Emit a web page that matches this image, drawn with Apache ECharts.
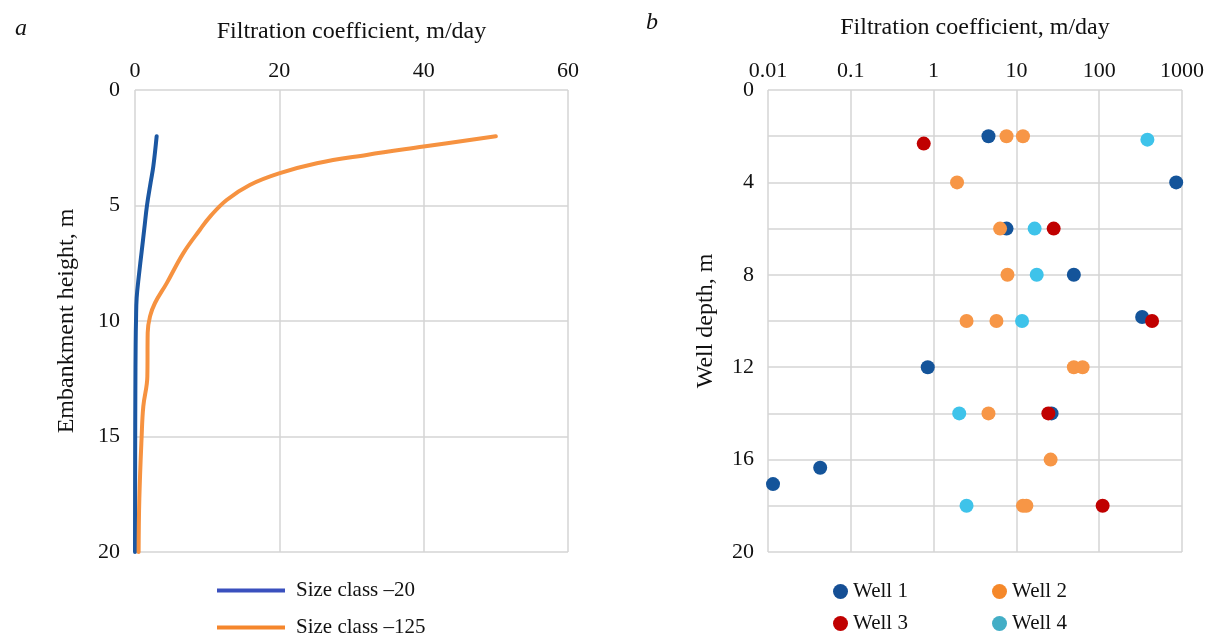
<!DOCTYPE html>
<html>
<head>
<meta charset="utf-8">
<script src="https://cdn.jsdelivr.net/npm/echarts@6/dist/echarts.min.js"></script>
<style>
html,body{margin:0;padding:0;background:#fff;}
#chart{width:1216px;height:633px;}
</style>
</head>
<body>
<div id="chart"></div>
<script>
// ---- Panel a: filtration coefficient vs embankment height ----
const class20Depth = [2, 3.3, 4, 5, 6, 7, 8, 9, 10, 11, 13, 16, 20];
const class20Value = [3.0, 2.54, 2.17, 1.66, 1.29, 0.92, 0.55, 0.23, 0.14, 0.09, 0.05, 0.02, 0];
const class125Depth = [2, 2.45, 2.81, 3.17, 3.61, 4.11, 4.76, 5.48, 6.05, 7.06, 8.36, 9.22, 9.8, 10.5, 12.4, 13.7, 15, 17.7, 20];
const class125Value = [50, 40, 32.1, 25.2, 19.96, 15.9, 12.7, 10.4, 9.0, 6.7, 4.4, 2.77, 2.08, 1.76, 1.71, 1.15, 0.92, 0.6, 0.5];

// ---- Panel b: filtration coefficient vs well depth (log scale) ----
const well1Value = [4.6, 851, 7.6, 49.4, 330, 0.85, 26.6, 0.0427, 0.0115];
const well1Depth = [2, 4, 6, 8, 9.83, 12, 14, 16.35, 17.06];
const well2Value = [7.6, 12.0, 1.92, 6.35, 7.8, 2.5, 5.74, 49.4, 63, 4.6, 25.9, 12.0, 13.2];
const well2Depth = [2, 2, 4, 6, 8, 10, 10, 12, 12, 14, 16, 18, 18];
const well3Value = [0.76, 28.2, 435, 24.3, 110];
const well3Depth = [2.32, 6, 10, 14, 18];
const well4Value = [382, 16.6, 17.6, 11.7, 2.04, 2.5];
const well4Depth = [2.15, 6, 8, 10, 14, 18];

const logTickLabels = ['0.01', '0.1', '1', '10', '100', '1000'];

const FONT = 'Liberation Serif';
const GRID_COLOR = '#D4D4D4';
const pairs = (xs, ys) => xs.map((x, i) => [x, ys[i]]);

const chart = echarts.init(document.getElementById('chart'), null, {renderer: 'canvas'});

const axisText = {fontFamily: FONT, fontSize: 22, color: '#111'};
const nameText = {fontFamily: FONT, fontSize: 24, color: '#111'};
const legendText = {fontFamily: FONT, fontSize: 21, color: '#111', lineHeight: 20};

function lineLegend(name, color, top) {
  return {
    orient: 'vertical', left: 217, top: top, padding: 0, itemWidth: 68, itemHeight: 4, icon: 'rect',
    textStyle: Object.assign({padding: [0, 0, 0, 6]}, legendText),
    data: [{name: name, itemStyle: {color: color}}]
  };
}
function dotLegend(name, color, left, top) {
  return {
    orient: 'vertical', left: left, top: top, padding: 0, itemWidth: 15, itemHeight: 15, icon: 'circle',
    textStyle: legendText,
    data: [{name: name, itemStyle: {color: color}}]
  };
}

chart.setOption({
  backgroundColor: '#fff',
  animation: false,
  title: [
    {text: 'a', left: 10, top: 12, textStyle: {fontFamily: FONT, fontStyle: 'italic', fontWeight: 'normal', fontSize: 24, color: '#111'}},
    {text: 'b', left: 641, top: 6, textStyle: {fontFamily: FONT, fontStyle: 'italic', fontWeight: 'normal', fontSize: 24, color: '#111'}}
  ],
  grid: [
    {left: 135, top: 90, width: 433, height: 462},
    {left: 768, top: 90, width: 414, height: 462}
  ],
  xAxis: [
    {
      gridIndex: 0, type: 'value', position: 'top', min: 0, max: 60, interval: 20,
      name: 'Filtration coefficient, m/day', nameLocation: 'middle', nameGap: 46, nameTextStyle: nameText,
      axisLine: {show: false}, axisTick: {show: false},
      axisLabel: Object.assign({margin: 8}, axisText),
      splitLine: {show: true, lineStyle: {color: GRID_COLOR, width: 1.5}}
    },
    {
      gridIndex: 1, type: 'log', logBase: 10, position: 'top', min: 0.01, max: 1000,
      name: 'Filtration coefficient, m/day', nameLocation: 'middle', nameGap: 50, nameTextStyle: nameText,
      axisLine: {show: false}, axisTick: {show: false},
      axisLabel: Object.assign({margin: 8, formatter: function (v) {
        const idx = Math.round(Math.log10(v)) + 2;
        return logTickLabels[idx] !== undefined ? logTickLabels[idx] : '';
      }}, axisText),
      splitLine: {show: true, lineStyle: {color: GRID_COLOR, width: 1.5}},
      minorSplitLine: {show: false}
    }
  ],
  yAxis: [
    {
      gridIndex: 0, type: 'value', inverse: true, min: 0, max: 20, interval: 5,
      name: 'Embankment height, m', nameLocation: 'middle', nameGap: 56, nameTextStyle: nameText,
      axisLine: {show: false}, axisTick: {show: false},
      axisLabel: Object.assign({margin: 15}, axisText),
      splitLine: {show: true, lineStyle: {color: GRID_COLOR, width: 1.5}}
    },
    {
      gridIndex: 1, type: 'value', inverse: true, min: 0, max: 20, interval: 2,
      name: 'Well depth, m', nameLocation: 'middle', nameGap: 50, nameTextStyle: nameText,
      axisLine: {show: false}, axisTick: {show: false},
      axisLabel: Object.assign({margin: 14, formatter: function (v) { return v % 4 === 0 ? String(v) : ''; }}, axisText),
      splitLine: {show: true, lineStyle: {color: GRID_COLOR, width: 1.5}}
    }
  ],
  legend: [
    lineLegend('Size class \u201320', '#3A50BE', 580),
    lineLegend('Size class \u2013125', '#F5862C', 617),
    dotLegend('Well 1', '#154F95', 833, 581),
    dotLegend('Well 3', '#C00000', 833, 613),
    dotLegend('Well 2', '#F5882A', 992, 581),
    dotLegend('Well 4', '#43AEC6', 992, 613)
  ],
  series: [
    {
      name: 'Size class \u201320', type: 'line', xAxisIndex: 0, yAxisIndex: 0,
      data: pairs(class20Value, class20Depth), smooth: 0.4, showSymbol: false, symbol: 'none',
      lineStyle: {color: '#1B57A2', width: 4, cap: 'round'}, itemStyle: {color: '#1B57A2'}
    },
    {
      name: 'Size class \u2013125', type: 'line', xAxisIndex: 0, yAxisIndex: 0,
      data: pairs(class125Value, class125Depth), smooth: 0.4, showSymbol: false, symbol: 'none',
      lineStyle: {color: '#F69240', width: 4, cap: 'round'}, itemStyle: {color: '#F69240'}
    },
    {
      name: 'Well 1', type: 'scatter', xAxisIndex: 1, yAxisIndex: 1, symbolSize: 14,
      data: pairs(well1Value, well1Depth), itemStyle: {color: '#14549A', opacity: 1}
    },
    {
      name: 'Well 2', type: 'scatter', xAxisIndex: 1, yAxisIndex: 1, symbolSize: 14,
      data: pairs(well2Value, well2Depth), itemStyle: {color: '#F79646', opacity: 1}
    },
    {
      name: 'Well 3', type: 'scatter', xAxisIndex: 1, yAxisIndex: 1, symbolSize: 14,
      data: pairs(well3Value, well3Depth), itemStyle: {color: '#C00000', opacity: 1}
    },
    {
      name: 'Well 4', type: 'scatter', xAxisIndex: 1, yAxisIndex: 1, symbolSize: 14,
      data: pairs(well4Value, well4Depth), itemStyle: {color: '#3EC3EA', opacity: 1}
    }
  ]
});
</script>
</body>
</html>
